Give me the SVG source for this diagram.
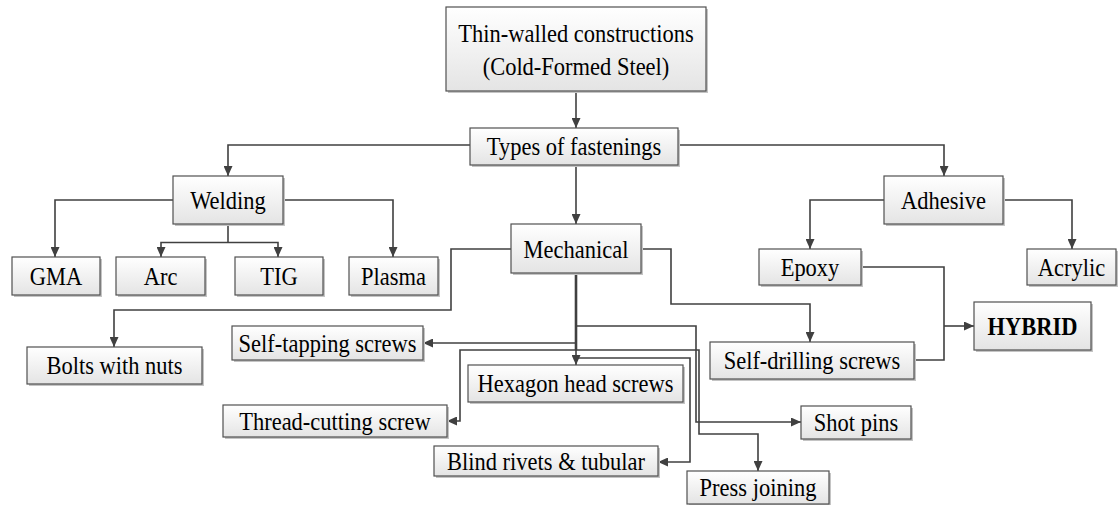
<svg xmlns="http://www.w3.org/2000/svg" width="1119" height="506" viewBox="0 0 1119 506">
<defs>
<linearGradient id="g" x1="0" y1="0" x2="0" y2="1">
<stop offset="0" stop-color="#ffffff"/>
<stop offset="1" stop-color="#e4e4e4"/>
</linearGradient>
<marker id="a" markerUnits="userSpaceOnUse" markerWidth="11" markerHeight="9" refX="10" refY="4.5" orient="auto">
<path d="M0,0 L10,4.5 L0,9 z" fill="#404040"/>
</marker>
<style>
.sh{fill:#c4c4c4}
.bx{fill:url(#g);stroke:#505050;stroke-width:1.2}
.t{font-family:"Liberation Serif","Times New Roman",serif;font-size:26px;fill:#000;text-anchor:middle}
.b{font-weight:bold}
.c{fill:none;stroke:#404040;stroke-width:1.6}
.ca{fill:none;stroke:#404040;stroke-width:1.6;marker-end:url(#a)}
</style>
</defs>
<rect width="1119" height="506" fill="#fff"/>
<g id="connectors">
<path class="ca" d="M576,91 V128"/>
<path class="ca" d="M470,145 H228 V176"/>
<path class="ca" d="M678,145 H944 V176"/>
<path class="ca" d="M576,165 V224"/>
<path class="ca" d="M173,200 H55 V257"/>
<path class="ca" d="M283,200 H393 V257"/>
<path class="c" d="M228,224 V242.5"/>
<path class="ca" d="M228,242.5 H161 V257"/>
<path class="ca" d="M228,242.5 H278 V257"/>
<path class="ca" d="M884,200 H810 V249"/>
<path class="ca" d="M1003,200 H1072 V249"/>
<path class="ca" d="M511,249 H451 V310 H114 V347"/>
<path class="ca" d="M641,249 H671 V304 H810 V342"/>
<path class="c" d="M576,273 V350" style="stroke-width:2.6"/>
<path class="ca" d="M576,273 V365"/>
<path class="ca" d="M576,343 H423"/>
<path class="ca" d="M576,350 H460 V421 H447"/>
<path class="ca" d="M576,326 H696 V422 H801"/>
<path class="ca" d="M576,350 H699 V434 H758 V471"/>
<path class="ca" d="M576,358 H690 V462 H658"/>
<path class="c" d="M861,267 H944 V360 H914"/>
<path class="ca" d="M944,326 H974"/>
</g>
<g id="top"><rect class="sh" x="448" y="9" width="260" height="84"/><rect class="bx" x="446" y="7" width="260" height="84"/>
<text class="t" transform="translate(576,42) scale(0.865,1)">Thin-walled constructions</text>
<text class="t" transform="translate(576,75) scale(0.865,1)">(Cold-Formed Steel)</text></g>
<g id="types"><rect class="sh" x="472" y="130" width="208" height="37"/><rect class="bx" x="470" y="128" width="208" height="37"/>
<text class="t" transform="translate(574,155) scale(0.865,1)">Types of fastenings</text></g>
<g id="welding"><rect class="sh" x="175" y="178" width="110" height="48"/><rect class="bx" x="173" y="176" width="110" height="48"/>
<text class="t" transform="translate(228,208.8) scale(0.865,1)">Welding</text></g>
<g id="adhesive"><rect class="sh" x="886" y="178" width="119" height="48"/><rect class="bx" x="884" y="176" width="119" height="48"/>
<text class="t" transform="translate(943.5,208.8) scale(0.865,1)">Adhesive</text></g>
<g id="mechanical"><rect class="sh" x="513" y="226" width="130" height="49"/><rect class="bx" x="511" y="224" width="130" height="49"/>
<text class="t" transform="translate(576,257.5) scale(0.865,1)">Mechanical</text></g>
<g id="gma"><rect class="sh" x="14" y="259" width="88" height="38"/><rect class="bx" x="12" y="257" width="88" height="38"/>
<text class="t" transform="translate(56,284.5) scale(0.865,1)">GMA</text></g>
<g id="arc"><rect class="sh" x="118" y="259" width="89" height="38"/><rect class="bx" x="116" y="257" width="89" height="38"/>
<text class="t" transform="translate(160.5,284.5) scale(0.865,1)">Arc</text></g>
<g id="tig"><rect class="sh" x="237" y="259" width="88" height="38"/><rect class="bx" x="235" y="257" width="88" height="38"/>
<text class="t" transform="translate(279,284.5) scale(0.865,1)">TIG</text></g>
<g id="plasma"><rect class="sh" x="351" y="259" width="89" height="38"/><rect class="bx" x="349" y="257" width="89" height="38"/>
<text class="t" transform="translate(393.5,284.5) scale(0.865,1)">Plasma</text></g>
<g id="epoxy"><rect class="sh" x="761" y="251" width="102" height="36"/><rect class="bx" x="759" y="249" width="102" height="36"/>
<text class="t" transform="translate(810,275.5) scale(0.865,1)">Epoxy</text></g>
<g id="acrylic"><rect class="sh" x="1029" y="251" width="89" height="36"/><rect class="bx" x="1027" y="249" width="89" height="36"/>
<text class="t" transform="translate(1071.5,275.5) scale(0.865,1)">Acrylic</text></g>
<g id="hybrid"><rect class="sh" x="976" y="304" width="117" height="48"/><rect class="bx" x="974" y="302" width="117" height="48"/>
<text class="t b" transform="translate(1032.5,334.5) scale(0.865,1)">HYBRID</text></g>
<g id="bolts"><rect class="sh" x="29" y="349" width="175" height="37"/><rect class="bx" x="27" y="347" width="175" height="37"/>
<text class="t" transform="translate(114.5,374) scale(0.865,1)">Bolts with nuts</text></g>
<g id="selftapping"><rect class="sh" x="234" y="328" width="191" height="34"/><rect class="bx" x="232" y="326" width="191" height="34"/>
<text class="t" transform="translate(327.5,351.5) scale(0.865,1)">Self-tapping screws</text></g>
<g id="hexagon"><rect class="sh" x="470" y="367" width="215" height="37"/><rect class="bx" x="468" y="365" width="215" height="37"/>
<text class="t" transform="translate(575.5,392) scale(0.865,1)">Hexagon head screws</text></g>
<g id="selfdrilling"><rect class="sh" x="712" y="344" width="204" height="37"/><rect class="bx" x="710" y="342" width="204" height="37"/>
<text class="t" transform="translate(812,369) scale(0.865,1)">Self-drilling screws</text></g>
<g id="threadcutting"><rect class="sh" x="225" y="407" width="224" height="32"/><rect class="bx" x="223" y="405" width="224" height="32"/>
<text class="t" transform="translate(335,429.5) scale(0.865,1)">Thread-cutting screw</text></g>
<g id="shotpins"><rect class="sh" x="803" y="408" width="110" height="33"/><rect class="bx" x="801" y="406" width="110" height="33"/>
<text class="t" transform="translate(856,431) scale(0.865,1)">Shot pins</text></g>
<g id="blindrivets"><rect class="sh" x="436" y="448" width="224" height="30"/><rect class="bx" x="434" y="446" width="224" height="30"/>
<text class="t" transform="translate(546,469.5) scale(0.865,1)">Blind rivets &amp; tubular</text></g>
<g id="pressjoining"><rect class="sh" x="689" y="473" width="142" height="32"/><rect class="bx" x="687" y="471" width="142" height="33"/>
<text class="t" transform="translate(758,496) scale(0.865,1)">Press joining</text></g>
</svg>
